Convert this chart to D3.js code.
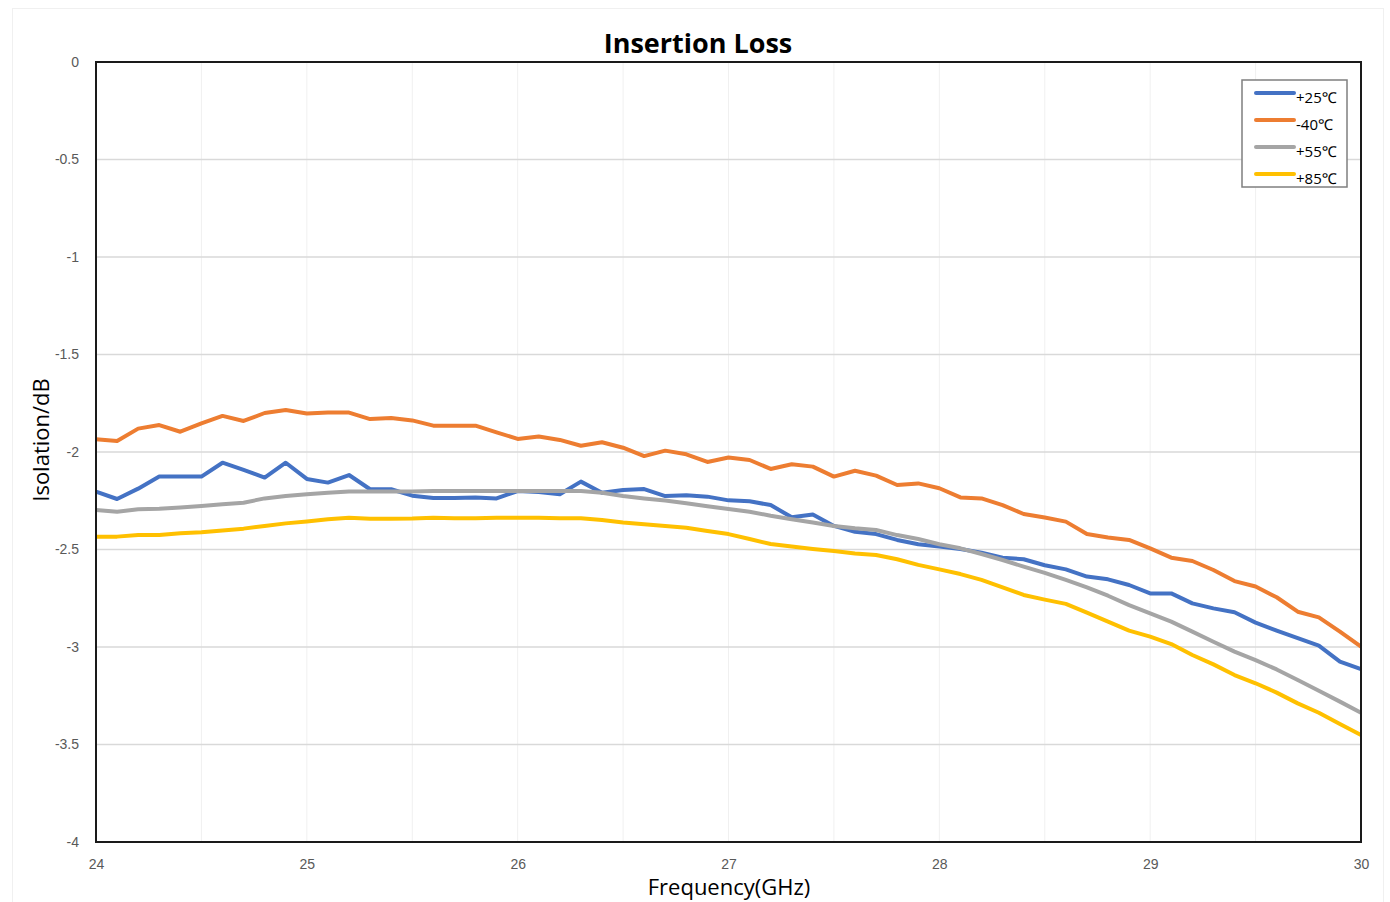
<!DOCTYPE html>
<html>
<head>
<meta charset="utf-8">
<script src="https://cdn.jsdelivr.net/npm/d3@7"></script>
<style>
    body { margin: 0; background: #fff; }
    #chart { width: 1390px; height: 902px; }
</style>
</head>
<body>
<div id="chart"></div>
<script>
// frequency 24.0 .. 30.0 GHz, 0.1 GHz step
const freqs = d3.range(0, 61).map(i => +(24 + i * 0.1).toFixed(1));

const seriesNames = ["+25℃", "-40℃", "+55℃", "+85℃"];
const seriesColors = ["#4472C4", "#ED7D31", "#A5A5A5", "#FFC000"];

const t25 = [
    -2.203, -2.241, -2.188, -2.126, -2.126, -2.126, -2.055, -2.092, -2.131, -2.055, -2.138, -2.157, -2.118, -2.191, -2.191, -2.224,
    -2.236, -2.236, -2.233, -2.238, -2.200, -2.205, -2.217, -2.152, -2.209, -2.195, -2.190, -2.226, -2.222, -2.229, -2.248,
    -2.253, -2.272, -2.335, -2.320, -2.379, -2.409, -2.421, -2.451, -2.473, -2.485, -2.497, -2.516, -2.542, -2.550, -2.581,
    -2.602, -2.639, -2.653, -2.682, -2.725, -2.725, -2.776, -2.802, -2.822, -2.875, -2.916, -2.955, -2.993, -3.075, -3.113
];
const tm40 = [
    -1.935, -1.944, -1.880, -1.862, -1.896, -1.853, -1.815, -1.841, -1.800, -1.785, -1.803, -1.798, -1.798, -1.831, -1.826, -1.838,
    -1.865, -1.865, -1.865, -1.899, -1.933, -1.921, -1.938, -1.968, -1.950, -1.978, -2.021, -1.993, -2.012, -2.051, -2.028,
    -2.041, -2.087, -2.063, -2.075, -2.126, -2.096, -2.121, -2.169, -2.161, -2.186, -2.233, -2.238, -2.272, -2.318, -2.336,
    -2.357, -2.421, -2.438, -2.451, -2.494, -2.542, -2.559, -2.605, -2.662, -2.690, -2.745, -2.819, -2.848, -2.921, -2.998
];
const t55 = [
    -2.297, -2.306, -2.294, -2.291, -2.285, -2.277, -2.268, -2.260, -2.238, -2.226, -2.217, -2.209, -2.203, -2.203, -2.203, -2.203,
    -2.200, -2.200, -2.200, -2.200, -2.200, -2.200, -2.200, -2.200, -2.209, -2.226, -2.238, -2.249, -2.263, -2.278, -2.292,
    -2.306, -2.327, -2.345, -2.362, -2.379, -2.391, -2.400, -2.426, -2.446, -2.473, -2.494, -2.523, -2.554, -2.588, -2.620,
    -2.656, -2.694, -2.737, -2.785, -2.827, -2.870, -2.921, -2.973, -3.024, -3.067, -3.115, -3.169, -3.224, -3.280, -3.337
];
const t85 = [
    -2.434, -2.434, -2.426, -2.426, -2.417, -2.412, -2.402, -2.393, -2.379, -2.366, -2.356, -2.345, -2.337, -2.342, -2.342, -2.341,
    -2.337, -2.340, -2.340, -2.337, -2.337, -2.337, -2.340, -2.340, -2.349, -2.362, -2.371, -2.379, -2.388, -2.405, -2.421,
    -2.446, -2.472, -2.485, -2.497, -2.508, -2.520, -2.528, -2.550, -2.579, -2.602, -2.626, -2.656, -2.694, -2.733, -2.757,
    -2.779, -2.824, -2.870, -2.916, -2.947, -2.985, -3.041, -3.089, -3.144, -3.186, -3.234, -3.289, -3.337, -3.395, -3.451
];
const seriesValues = [t25, tm40, t55, t85];

const xTicks = [24, 25, 26, 27, 28, 29, 30];
const yTicks = [0, -0.5, -1, -1.5, -2, -2.5, -3, -3.5, -4];

const width = 1390, height = 902;
const margin = { top: 62, right: 29, bottom: 60, left: 96 };

const svg = d3.select('#chart')
    .append('svg')
    .attr('width', width)
    .attr('height', height)
    .style('font-family', "'Open Sans', 'Noto Sans', sans-serif");

// faint outer frame of the chart
svg.append('rect')
    .attr('x', 12.5).attr('y', 8.5)
    .attr('width', 1371).attr('height', 900)
    .attr('fill', 'none')
    .attr('stroke', '#f0f0f0');

const x = d3.scaleLinear().domain([24, 30]).range([margin.left, width - margin.right]);
const y = d3.scaleLinear().domain([0, -4]).range([margin.top, height - margin.bottom]);

// grid
svg.append('g')
    .selectAll('line')
    .data(d3.range(24.5, 30, 0.5))
    .join('line')
    .attr('x1', d => x(d)).attr('x2', d => x(d))
    .attr('y1', y(0)).attr('y2', y(-4))
    .attr('stroke', '#f0f0f0')
    .attr('stroke-width', 1);

svg.append('g')
    .selectAll('line')
    .data(yTicks.slice(1, -1))
    .join('line')
    .attr('x1', x(24)).attr('x2', x(30))
    .attr('y1', d => y(d)).attr('y2', d => y(d))
    .attr('stroke', '#d9d9d9')
    .attr('stroke-width', 1.5);

// axes labels (plain hyphen for negatives, like the original)
const yAxis = svg.append('g')
    .attr('transform', `translate(${x(24) - 14},0)`)
    .call(d3.axisLeft(y).tickValues(yTicks).tickSize(0).tickFormat(d => String(d)));
yAxis.select('.domain').remove();
yAxis.selectAll('text')
    .attr('fill', '#595959')
    .attr('font-size', '14px');

const xAxis = svg.append('g')
    .attr('transform', `translate(0,${y(-4) + 14})`)
    .call(d3.axisBottom(x).tickValues(xTicks).tickSize(0).tickFormat(d => String(d)));
xAxis.select('.domain').remove();
xAxis.selectAll('text')
    .attr('fill', '#595959')
    .attr('font-size', '14px');

// lines
const line = d3.line()
    .x((d, i) => x(freqs[i]))
    .y(d => y(d));

svg.append('g')
    .selectAll('path')
    .data(seriesValues)
    .join('path')
    .attr('d', d => line(d))
    .attr('fill', 'none')
    .attr('stroke', (d, i) => seriesColors[i])
    .attr('stroke-width', 4)
    .attr('stroke-linejoin', 'round');

// plot border
svg.append('rect')
    .attr('x', x(24)).attr('y', y(0))
    .attr('width', x(30) - x(24)).attr('height', y(-4) - y(0))
    .attr('fill', 'none')
    .attr('stroke', '#1a1a1a')
    .attr('stroke-width', 2);

// title
svg.append('text')
    .attr('x', 698).attr('y', 53)
    .attr('text-anchor', 'middle')
    .attr('font-size', '27px')
    .attr('font-weight', 'bold')
    .attr('fill', '#000')
    .text('Insertion Loss');

svg.append('text')
    .attr('transform', 'translate(49,440) rotate(-90)')
    .attr('text-anchor', 'middle')
    .attr('font-size', '22px')
    .attr('fill', '#000')
    .text('Isolation/dB');

svg.append('text')
    .attr('x', 729).attr('y', 895)
    .attr('text-anchor', 'middle')
    .attr('font-size', '22px')
    .attr('fill', '#000')
    .text('Frequency(GHz)');

// legend
const legend = svg.append('g').attr('transform', 'translate(1242,80)');
legend.append('rect')
    .attr('width', 105).attr('height', 107)
    .attr('fill', '#fff')
    .attr('stroke', '#7f7f7f')
    .attr('stroke-width', 1.5);

const items = legend.selectAll('g.item')
    .data(seriesNames)
    .join('g')
    .attr('class', 'item')
    .attr('transform', (d, i) => `translate(0,${13 + i * 27})`);

items.append('line')
    .attr('x1', 14).attr('x2', 52)
    .attr('stroke', (d, i) => seriesColors[i])
    .attr('stroke-width', 4)
    .attr('stroke-linecap', 'round');

items.append('text')
    .attr('x', 54).attr('y', 10)
    .attr('font-size', '15px')
    .attr('fill', '#000')
    .text(d => d);
</script>
</body>
</html>
